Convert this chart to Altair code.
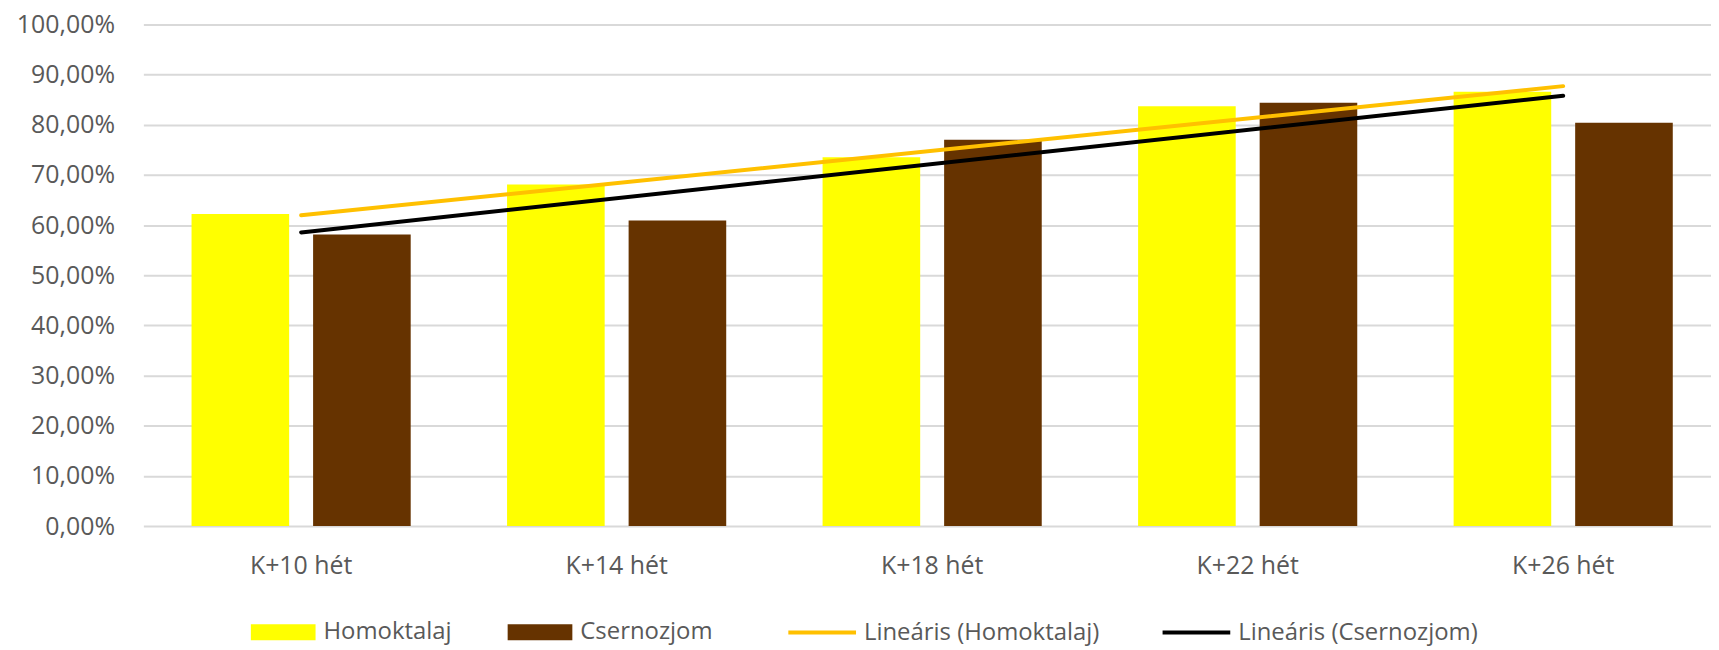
import altair as alt
import pandas as pd

# ---- data ----
categories = ["K+10 hét", "K+14 hét", "K+18 hét", "K+22 hét", "K+26 hét"]
series_names = ["Homoktalaj", "Csernozjom"]
homoktalaj = [0.622, 0.681, 0.735, 0.837, 0.866]
csernozjom = [0.581, 0.609, 0.770, 0.844, 0.804]
bar_colors = ["#FFFF00", "#663300"]
trend_names = ["Lineáris (Homoktalaj)", "Lineáris (Csernozjom)"]
trend_colors = ["#FFC000", "#000000"]
y_ticks = [0.0, 0.1, 0.2, 0.3, 0.4, 0.5, 0.6, 0.7, 0.8, 0.9, 1.0]

rows = []
for i, c in enumerate(categories):
    rows.append({"cat": c, "idx": i + 1, "series": series_names[0], "value": homoktalaj[i]})
    rows.append({"cat": c, "idx": i + 1, "series": series_names[1], "value": csernozjom[i]})
df = pd.DataFrame(rows)

FONT = "Open Sans"
GREY = "#595959"

cat_expr = "[" + ",".join("'%s'" % c for c in categories) + "][round(datum.idx) - 1]"

x_scale = alt.Scale(domain=categories, paddingInner=0.3054, paddingOuter=0.1527)
y_scale = alt.Scale(domain=[0, 1], nice=False)

bars = alt.Chart(df).mark_bar().encode(
    x=alt.X(
        "cat:N",
        scale=x_scale,
        axis=alt.Axis(
            title=None, labelAngle=0, domain=False, ticks=False, tickSize=0,
            labelPadding=48, labelBaseline="alphabetic", labelFont=FONT,
            labelFontSize=25, labelColor=GREY, grid=False,
        ),
    ),
    xOffset=alt.XOffset(
        "series:N",
        scale=alt.Scale(domain=series_names, paddingInner=0.197, paddingOuter=0),
    ),
    y=alt.Y(
        "value:Q",
        scale=y_scale,
        axis=alt.Axis(
            title=None, values=y_ticks,
            labelExpr="replace(format(datum.value, '.2%'), '.', ',')",
            domain=False, ticks=False, tickSize=0, labelPadding=29,
            labelFont=FONT, labelFontSize=25, labelColor=GREY,
            gridColor="#d9d9d9", gridWidth=2,
        ),
    ),
    fill=alt.Fill(
        "series:N",
        scale=alt.Scale(domain=series_names, range=bar_colors),
        legend=alt.Legend(
            title=None, orient="none", legendX=108, legendY=578,
            direction="horizontal", symbolType="M-1,-0.246H1V0.246H-1Z",
            symbolSize=4225, symbolStrokeWidth=0, symbolOpacity=1,
            labelFont=FONT, labelFontSize=24, labelColor=GREY,
            labelOffset=8, columnPadding=56, padding=0, labelLimit=400,
        ),
    ),
)

trend = (
    alt.Chart(df)
    .transform_regression("idx", "value", groupby=["series"], method="linear")
    .transform_calculate(cat=cat_expr, trend="'Lineáris (' + datum.series + ')'")
    .mark_line(strokeWidth=4, strokeCap="round")
    .encode(
        x=alt.X("cat:N", title=None),
        y=alt.Y("value:Q", title=None),
        stroke=alt.Stroke(
            "trend:N",
            scale=alt.Scale(domain=trend_names, range=trend_colors),
            legend=alt.Legend(
                title=None, orient="none", legendX=646, legendY=575,
                direction="horizontal", symbolType="stroke",
                symbolSize=4624, symbolStrokeWidth=4, symbolOpacity=1,
                labelFont=FONT, labelFontSize=24, labelColor=GREY,
                labelOffset=6, columnPadding=55, padding=0, labelLimit=400,
            ),
        ),
    )
)

chart = (
    alt.layer(bars, trend)
    .properties(
        width=1585,
        height=504,
        autosize=alt.AutoSizeParams(type="none"),
        padding={"left": 136, "top": 15, "right": -10, "bottom": 122},
        background="white",
    )
    .configure_view(stroke=None)
)

chart.save("out.html", embed_options={"renderer": "svg", "actions": False})
